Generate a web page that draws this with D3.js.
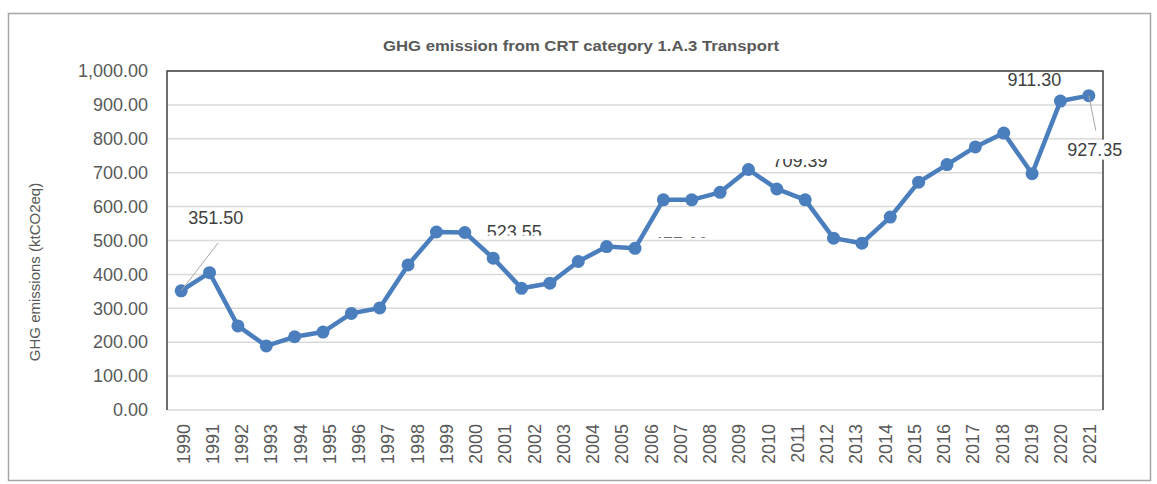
<!DOCTYPE html>
<html>
<head>
<meta charset="utf-8">
<script src="https://cdn.jsdelivr.net/npm/d3@7/dist/d3.min.js"></script>
<style>
body { margin: 0; background: #fff; }
text { font-family: "Liberation Sans", Arial, sans-serif; fill: #595959; }
</style>
</head>
<body>
<div id="chart"></div>
<script>
var years = ["1990","1991","1992","1993","1994","1995","1996","1997","1998","1999",
	"2000","2001","2002","2003","2004","2005","2006","2007","2008","2009",
	"2010","2011","2012","2013","2014","2015","2016","2017","2018","2019",
	"2020","2021"];

// ktCO2eq (the series has one point more than the axis has labels)
var emissions = [351.50, 405, 248, 189, 216, 230, 285, 301, 428, 525,
	523.55, 448, 359, 374, 438, 482, 477, 620, 620, 642,
	709.39, 652, 620, 507, 492, 569, 672, 724, 776, 817,
	697, 911.30, 927.35];

var yTicks = [0, 100, 200, 300, 400, 500, 600, 700, 800, 900, 1000];

// points that carry a data label
var labelled = [0, 10, 16, 20, 31, 32];

// where each label sits relative to its point (dx, dy = text centre), optional leader and cut
var labelPlace = {
	0:  { dx: 7,   dy: -73, anchor: "start", leader: [37, -48] },
	10: { dx: 22,  dy: -1,  anchor: "start", clip: [-12, 4] },
	16: { dx: 18,  dy: -5,  anchor: "start", clip: [-7.5, -5.5] },
	20: { dx: 24,  dy: -9,  anchor: "start", clip: [-1.5, 12] },
	31: { dx: -26, dy: -21, anchor: "middle" },
	32: { dx: 6,   dy: 54,  anchor: "middle", leader: [7, 35], gap: true }
};

var width = 1157,
	height = 484,
	plot = { left: 167, top: 71, right: 1103, bottom: 410 };

var svg = d3.select("#chart")
	.append("svg")
	.attr("width", width)
	.attr("height", height);

// chart frame
svg.append("rect")
	.attr("x", 8.5).attr("y", 13.5)
	.attr("width", 1142).attr("height", 467)
	.attr("fill", "#fff")
	.attr("stroke", "#a6a6a6")
	.attr("stroke-width", 1.5);

var x = d3.scaleBand()
	.domain(years)
	.range([plot.left, plot.right]);

var xp = d3.scaleBand()
	.domain(d3.range(emissions.length))
	.range([plot.left, plot.right]);

var y = d3.scaleLinear()
	.domain([0, 1000])
	.range([plot.bottom, plot.top]);

function px(i) { return xp(i) + xp.bandwidth() / 2; }

// gridlines
svg.append("g")
	.selectAll("line")
	.data(yTicks)
	.enter().append("line")
	.attr("x1", plot.left).attr("x2", plot.right)
	.attr("y1", function(d) { return y(d); })
	.attr("y2", function(d) { return y(d); })
	.attr("stroke", "#d9d9d9")
	.attr("stroke-width", 1.5);

// plot border: top, left, right
svg.append("path")
	.attr("d", "M" + plot.left + "," + plot.bottom + "V" + plot.top + "H" + plot.right + "V" + plot.bottom)
	.attr("fill", "none")
	.attr("stroke", "#404040")
	.attr("stroke-width", 1.5);

// y axis
svg.append("g")
	.attr("transform", "translate(" + plot.left + ",0)")
	.call(d3.axisLeft(y).tickValues(yTicks).tickFormat(d3.format(",.2f")).tickSize(0).tickPadding(19))
	.call(function(g) { g.select(".domain").remove(); })
	.selectAll("text")
	.style("font-size", "18px");

// x axis, labels turned upright
svg.append("g")
	.attr("transform", "translate(0," + plot.bottom + ")")
	.call(d3.axisBottom(x).tickSize(0))
	.call(function(g) { g.select(".domain").remove(); })
	.selectAll("text")
	.attr("transform", "rotate(-90)")
	.attr("x", -14)
	.attr("y", 0)
	.attr("dy", "0.45em")
	.style("text-anchor", "end")
	.style("font-size", "18px");

// series
var line = d3.line()
	.x(function(d, i) { return px(i); })
	.y(function(d) { return y(d); });

svg.append("path")
	.datum(emissions)
	.attr("d", line)
	.attr("fill", "none")
	.attr("stroke", "#4a7ebd")
	.attr("stroke-width", 4.5)
	.attr("stroke-linejoin", "round");

svg.append("g")
	.selectAll("circle")
	.data(emissions)
	.enter().append("circle")
	.attr("cx", function(d, i) { return px(i); })
	.attr("cy", function(d) { return y(d); })
	.attr("r", 6.5)
	.attr("fill", "#4a7ebd");

// data labels
var defs = svg.append("defs");
var fmt = d3.format(".2f");

labelled.forEach(function(i) {
	var p = labelPlace[i],
		cx = px(i), cy = y(emissions[i]),
		tx = cx + p.dx, ty = cy + p.dy;

	if (p.leader) {
		svg.append("line")
			.attr("x1", cx).attr("y1", cy)
			.attr("x2", cx + p.leader[0]).attr("y2", cy + p.leader[1])
			.attr("stroke", "#a6a6a6")
			.attr("stroke-width", 1);
	}

	var t = svg.append("text")
		.attr("x", tx)
		.attr("y", ty)
		.attr("dy", "0.35em")
		.attr("text-anchor", p.anchor)
		.style("font-size", "18px")
		.style("fill", "#404040")
		.text(fmt(emissions[i]));

	if (p.clip) {
		defs.append("clipPath").attr("id", "cut" + i)
			.append("rect")
			.attr("x", tx - 80).attr("width", 160)
			.attr("y", ty + p.clip[0]).attr("height", p.clip[1] - p.clip[0]);
		t.attr("clip-path", "url(#cut" + i + ")");
	}

	if (p.gap) {
		svg.append("rect")
			.attr("x", plot.right - 1.5).attr("width", 3)
			.attr("y", ty - 10).attr("height", 20)
			.attr("fill", "#fff");
	}
});

// titles
svg.append("text")
	.attr("x", 581)
	.attr("y", 46)
	.attr("dy", "0.35em")
	.attr("text-anchor", "middle")
	.attr("textLength", 396)
	.attr("lengthAdjust", "spacingAndGlyphs")
	.style("font-size", "14px")
	.style("font-weight", "bold")
	.text("GHG emission from CRT category 1.A.3 Transport");

svg.append("text")
	.attr("transform", "translate(35,272) rotate(-90)")
	.attr("dy", "0.35em")
	.attr("text-anchor", "middle")
	.style("font-size", "15px")
	.text("GHG emissions (ktCO2eq)");
</script>
</body>
</html>
